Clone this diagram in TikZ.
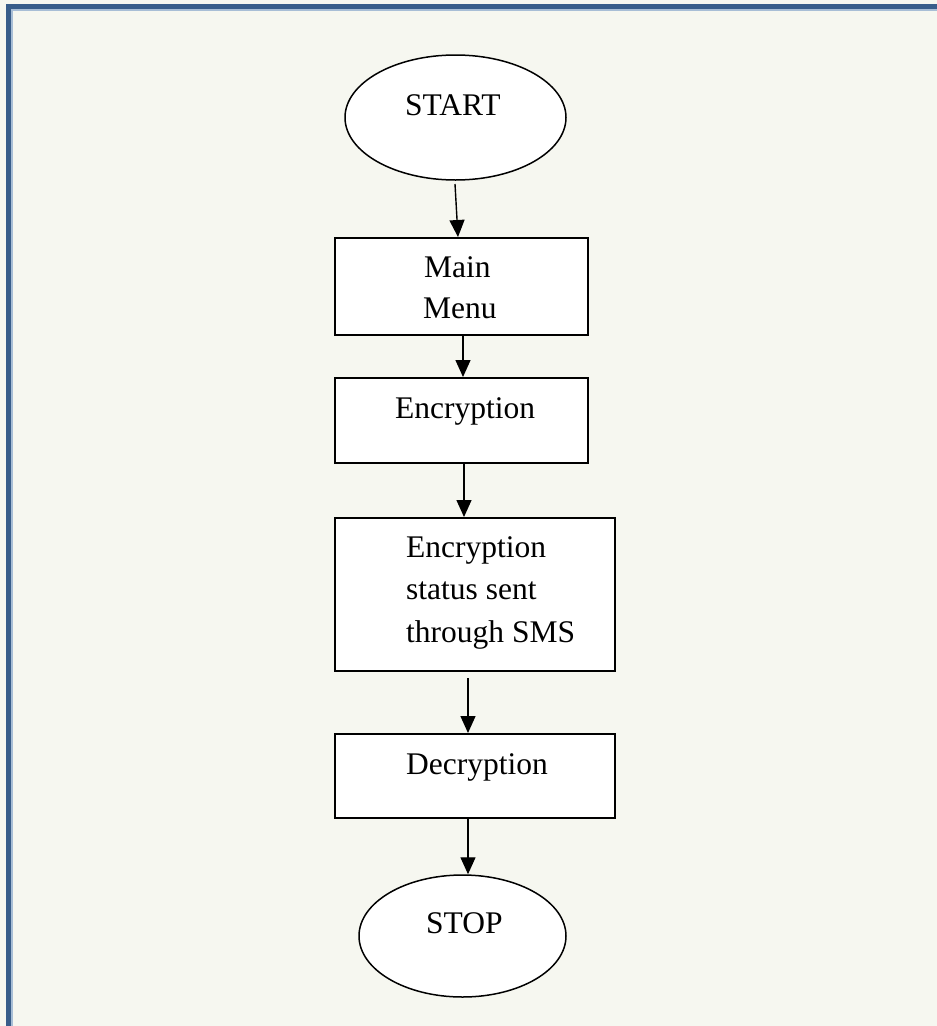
\documentclass[tikz,border=0pt]{standalone}
\usepackage{fontspec}
\setmainfont{Liberation Serif}
\usetikzlibrary{arrows.meta,shapes.geometric}
\definecolor{bgcol}{RGB}{246,247,240}
\definecolor{framecol}{RGB}{56,93,138}
\definecolor{framelight}{RGB}{168,190,214}
\tikzset{
  shapebox/.style={draw=black,fill=white,line width=1.5pt,rectangle,anchor=north west,inner sep=0pt},
  termshape/.style={draw=black,fill=white,line width=1.5pt,ellipse,inner sep=0pt},
  lbl/.style={anchor=base west,inner sep=0pt,font=\fontsize{31.5}{42}\selectfont},
  arr/.style={line width=1.4pt,-{Triangle[width=15pt,length=17pt]}}
}
\begin{document}
\begin{tikzpicture}[x=1pt,y=-1pt]
\useasboundingbox (0,0) rectangle (937,1026);
\fill[bgcol] (0,0) rectangle (937,1026);
% frame
\fill[framelight] (11,9) rectangle (937,10.5);
\fill[framelight] (11,9) rectangle (12.5,1026);
\fill[framecol] (6,4) rectangle (937,9);
\fill[framecol] (6,4) rectangle (11,1026);
% shapes
\node[termshape,minimum width=221pt,minimum height=125pt] (start) at (455.5,117.5) {};
\node[shapebox,minimum width=253pt,minimum height=97pt] (mm) at (334,237) {};
\node[shapebox,minimum width=253pt,minimum height=85pt] (enc) at (334,377) {};
\node[shapebox,minimum width=280pt,minimum height=153pt] (sms) at (334,517) {};
\node[shapebox,minimum width=280pt,minimum height=84pt] (dec) at (334,733) {};
\node[termshape,minimum width=207pt,minimum height=122pt] (stop) at (462.5,936) {};
% texts
\node[lbl] (tstart) at (405,115) {START};
\node[lbl] (tmain) at (424,277) {Main};
\node[lbl] (tmenu) at (423,318) {Menu};
\node[lbl] (tenc) at (395,418) {Encryption};
\node[lbl] (tsms1) at (406,557) {Encryption};
\node[lbl] (tsms2) at (406,599) {status sent};
\node[lbl] (tsms3) at (406,642) {through SMS};
\node[lbl] (tdec) at (406,774) {Decryption};
\node[lbl] (tstop) at (426,933) {STOP};
% connectors
\coordinate (a1s) at (455,184);
\coordinate (a1e) at (458,237);
\draw[arr] (a1s) -- (a1e);
\draw[arr] (mm.south -| 463,0) -- (enc.north -| 463,0);
\draw[arr] (enc.south -| 464,0) -- (sms.north -| 464,0);
\coordinate (a4s) at (468,678);
\draw[arr] (a4s) -- (dec.north -| a4s);
\draw[arr] (dec.south -| 468,0) -- (stop.north -| 468,0);
\end{tikzpicture}
\end{document}
